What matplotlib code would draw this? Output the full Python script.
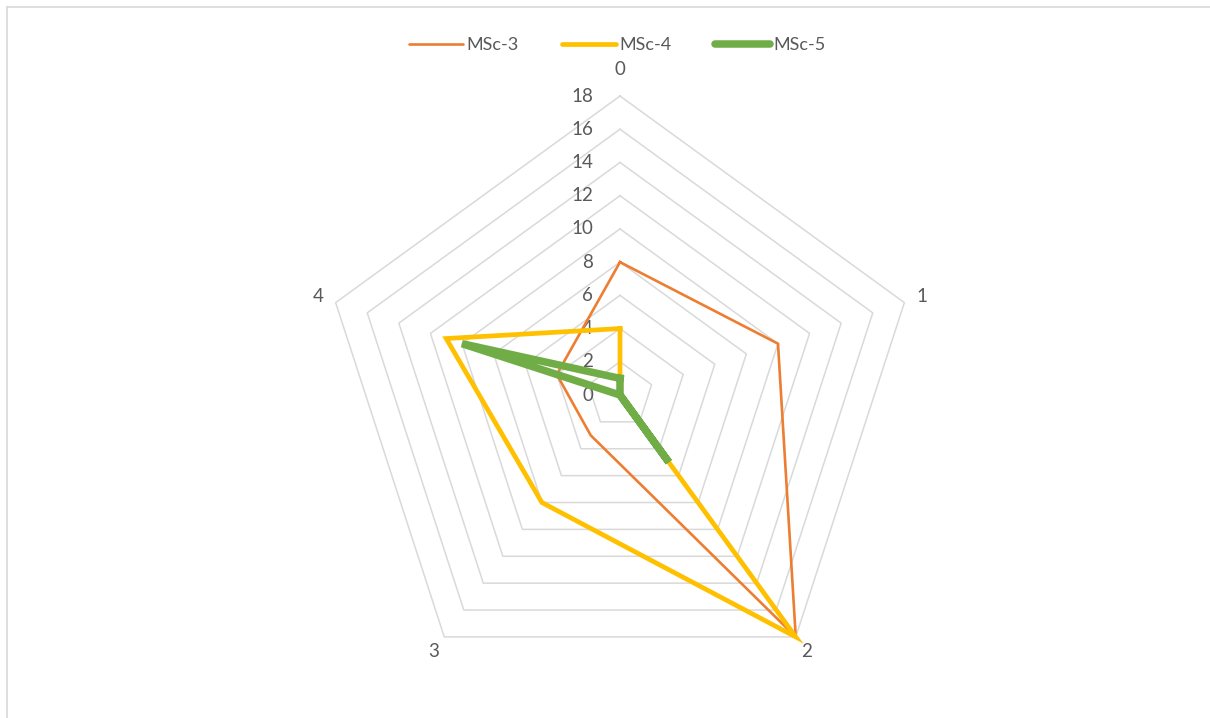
import numpy as np
import matplotlib.pyplot as plt
from matplotlib.lines import Line2D

plt.rcParams['font.family'] = ['Lato', 'DejaVu Sans']

# radar chart data
axis_labels = ['0', '1', '2', '3', '4']
levels = [0, 2, 4, 6, 8, 10, 12, 14, 16, 18]
msc3 = [8, 10, 18, 3, 4]
msc4 = [4, 0, 18, 8, 11]
msc5 = [1, 0, 5, 0, 10]

series = [('MSc-3', msc3, '#ED7D31', 1.9),
          ('MSc-4', msc4, '#FFC000', 3.4),
          ('MSc-5', msc5, '#70AD47', 5.4)]

txt = '#595959'
grid = '#D9D9D9'

n = len(axis_labels)
theta = np.linspace(0, 2 * np.pi, n, endpoint=False)
theta_c = np.append(theta, theta[0])

fig = plt.figure(figsize=(12.1, 7.18), dpi=100)
ax = fig.add_axes([0.2653, 0.0334, 0.4942, 0.8329], projection='polar')
ax.set_theta_offset(np.pi / 2)
ax.set_theta_direction(-1)
ax.set_ylim(0, 18)
ax.grid(False)
ax.spines['polar'].set_visible(False)
ax.set_xticks([])
ax.set_yticks([])
ax.patch.set_alpha(0)

# pentagon gridlines
for lv in levels[1:]:
    ax.plot(theta_c, [lv] * (n + 1), color=grid, lw=1.1, zorder=1, clip_on=False)

# value labels along the first spoke
for lv in levels:
    ax.annotate(str(lv), xy=(0, lv), xytext=(-27, 0), textcoords='offset pixels',
                ha='right', va='center', fontsize=13.5, color=txt)

# category labels
for t, lab in zip(theta, axis_labels):
    r = 19.6 if lab == '0' else 19.1
    ax.text(t, r, lab, ha='center', va='center', fontsize=13.5, color=txt)

for name, vals, col, lw in series:
    ax.plot(theta_c, vals + vals[:1], color=col, lw=lw, zorder=3,
            solid_joinstyle='miter', clip_on=False)

handles = [Line2D([], [], color=c, lw=lw, solid_capstyle='round') for _, _, c, lw in series]
fig.legend(handles, [s[0] for s in series], loc='center', bbox_to_anchor=(0.510, 1 - 45 / 718),
           ncol=3, frameon=False, fontsize=13, handlelength=3.0, handletextpad=0.2,
           columnspacing=2.4, labelcolor=txt)

# chart border (top and left edge visible)
fig.add_artist(Line2D([7 / 1210, 1], [1 - 7 / 718, 1 - 7 / 718], color=grid, lw=1.2))
fig.add_artist(Line2D([7 / 1210, 7 / 1210], [0, 1 - 7 / 718], color=grid, lw=1.2))

fig.savefig('out.png', dpi=100)
